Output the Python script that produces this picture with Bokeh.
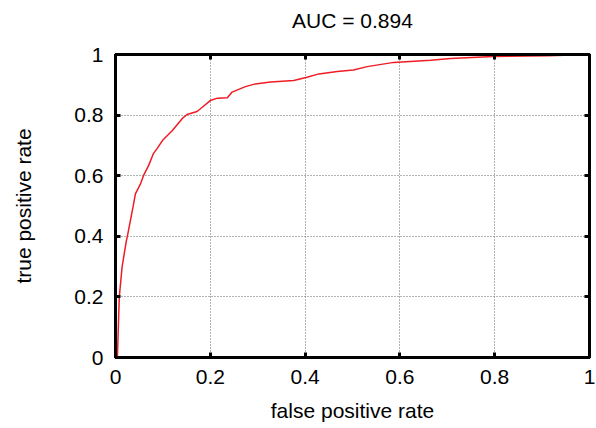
from bokeh.plotting import figure
from bokeh.models import Range1d, FixedTicker, LinearAxis
from bokeh.embed import file_html
from bokeh.resources import INLINE

fpr = [0.0, 0.004, 0.008, 0.014, 0.023, 0.025, 0.037, 0.042, 0.053, 0.059, 0.070,
       0.080, 0.088, 0.099, 0.120, 0.141, 0.151, 0.172, 0.183, 0.200, 0.215, 0.236,
       0.246, 0.274, 0.295, 0.327, 0.376, 0.404, 0.429, 0.468, 0.502, 0.531, 0.587,
       0.665, 0.707, 0.797, 0.911, 1.0]
tpr = [0.0, 0.0, 0.200, 0.300, 0.386, 0.400, 0.497, 0.540, 0.574, 0.600, 0.634,
       0.673, 0.690, 0.716, 0.749, 0.789, 0.802, 0.812, 0.826, 0.848, 0.856, 0.857,
       0.876, 0.894, 0.903, 0.909, 0.914, 0.925, 0.936, 0.944, 0.949, 0.960, 0.974,
       0.981, 0.987, 0.993, 0.996, 1.0]
ticks = [0, 0.2, 0.4, 0.6, 0.8, 1]
tick_labels = {0: "0", 0.2: "0.2", 0.4: "0.4", 0.6: "0.6", 0.8: "0.8", 1: "1"}
title_text = "AUC = 0.894"

FONT = "Liberation Sans"
FS = "21px"

p = figure(width=596, height=428, output_backend="svg", toolbar_location=None,
           x_range=Range1d(0, 1), y_range=Range1d(0, 1),
           min_border_left=115, min_border_right=7, min_border_top=54, min_border_bottom=71,
           x_axis_label="false positive rate", y_axis_label="true positive rate")
p.title.text = title_text
p.title.align = "center"
p.title.text_font = FONT
p.title.text_font_size = FS
p.title.text_font_style = "normal"
p.title.text_color = "black"
p.title.standoff = 0

p.outline_line_color = "black"
p.outline_line_width = 3
p.background_fill_color = "white"
p.border_fill_color = "white"

for ax in (p.xaxis[0], p.yaxis[0]):
    ax.ticker = FixedTicker(ticks=ticks)
    ax.major_label_overrides = tick_labels
    ax.major_label_text_font = FONT
    ax.major_label_text_font_size = FS
    ax.major_label_text_color = "black"
    ax.axis_label_text_font = FONT
    ax.axis_label_text_font_size = FS
    ax.axis_label_text_font_style = "normal"
    ax.axis_label_text_color = "black"
    ax.major_tick_in = 5
    ax.major_tick_out = 0
    ax.major_tick_line_width = 3
    ax.minor_tick_line_color = None
    ax.axis_line_width = 3
    ax.axis_line_color = "black"
p.xaxis[0].major_label_standoff = 12
p.yaxis[0].major_label_standoff = 12
p.xaxis[0].axis_label_standoff = 12
p.yaxis[0].axis_label_standoff = 36

for loc in ("right", "above"):
    ax = LinearAxis(ticker=FixedTicker(ticks=ticks))
    ax.major_label_text_font_size = "0px"
    ax.major_label_text_color = None
    ax.major_tick_in = 5
    ax.major_tick_out = 0
    ax.major_tick_line_width = 3
    ax.minor_tick_line_color = None
    ax.axis_line_width = 3
    if loc == "above":
        # invisible spacer label that lifts the title away from the frame
        ax.axis_label = "."
        ax.axis_label_text_color = None
        ax.axis_label_text_font_size = "10px"
        ax.axis_label_standoff = 12
    p.add_layout(ax, loc)

p.grid.ticker = FixedTicker(ticks=ticks)
p.grid.grid_line_color = "#666666"
p.grid.grid_line_dash = "1 2"
p.grid.grid_line_width = 1

p.line(fpr, tpr, line_color="#ee1c24", line_width=1.5)

open("out.html", "w").write(file_html(p, INLINE))
